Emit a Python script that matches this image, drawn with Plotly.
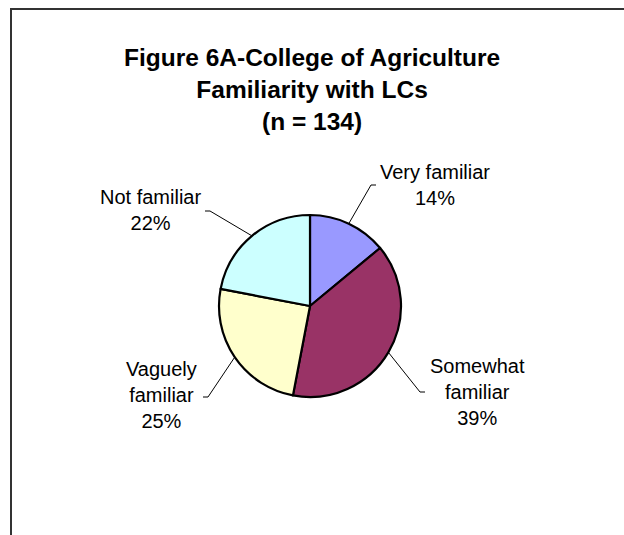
import math
import plotly.graph_objects as go

# Survey responses (share of respondents, %)
categories = ["Very familiar", "Somewhat familiar", "Vaguely familiar", "Not familiar"]
label_text = ["Very familiar", "Somewhat<br>familiar", "Vaguely<br>familiar", "Not familiar"]
shares = [14, 39, 25, 22]
colors = ["#9999FF", "#993366", "#FFFFCC", "#CCFFFF"]

W, H = 624, 535
cx, cy, r = 310, 306, 91          # pie centre / radius in pixels

# label block centre (pixels) and leader elbow (pixels) for each slice
label_pos = [(435, 185), (477, 392), (161, 395), (150, 210)]
elbows = [(371, 185), (420, 392), (208, 397), (210, 211)]
tick_dir = [1, 1, -1, -1]

FONT = "Liberation Sans, Arial, sans-serif"

fig = go.Figure()

fig.add_trace(go.Pie(
    labels=categories,
    values=shares,
    sort=False,
    direction="clockwise",
    rotation=0,
    marker=dict(colors=colors, line=dict(color="#000000", width=2.2)),
    textinfo="none",
    hoverinfo="label+percent",
    showlegend=False,
    domain=dict(x=[(cx - r) / W, (cx + r) / W], y=[(H - cy - r) / H, (H - cy + r) / H]),
))

# leader lines from the slice edge to each label
total = sum(shares)
cum = 0
for i, v in enumerate(shares):
    mid = (cum + v / 2) / total * 2 * math.pi
    cum += v
    px = cx + r * math.sin(mid)
    py = cy - r * math.cos(mid)
    ex, ey = elbows[i]
    fig.add_trace(go.Scatter(
        x=[px, ex, ex + 5 * tick_dir[i]], y=[py, ey, ey],
        mode="lines", line=dict(color="#000000", width=1),
        hoverinfo="skip", showlegend=False,
    ))
    fig.add_annotation(
        x=label_pos[i][0], y=label_pos[i][1], xref="x", yref="y",
        xanchor="center", yanchor="middle",
        text=f"{label_text[i]}<br>{round(v / total * 100)}%",
        showarrow=False, align="center",
        font=dict(family=FONT, size=20, color="#000000"),
    )

# chart area frame
fig.add_shape(type="rect", x0=11, y0=9, x1=W + 20, y1=H + 20,
              xref="x", yref="y", line=dict(color="#333333", width=2))

fig.add_annotation(
    x=312, y=89, xref="x", yref="y", xanchor="center", yanchor="middle",
    text="<b>Figure 6A-College of Agriculture<br>Familiarity with LCs<br>(n = 134)</b>",
    showarrow=False, align="center",
    font=dict(family=FONT, size=24.5, color="#000000"),
)

fig.update_layout(
    width=W, height=H,
    margin=dict(l=0, r=0, t=0, b=0),
    paper_bgcolor="#FFFFFF", plot_bgcolor="rgba(0,0,0,0)",
    xaxis=dict(range=[0, W], visible=False, fixedrange=True),
    yaxis=dict(range=[H, 0], visible=False, fixedrange=True),
)

fig.write_html("out.html")
